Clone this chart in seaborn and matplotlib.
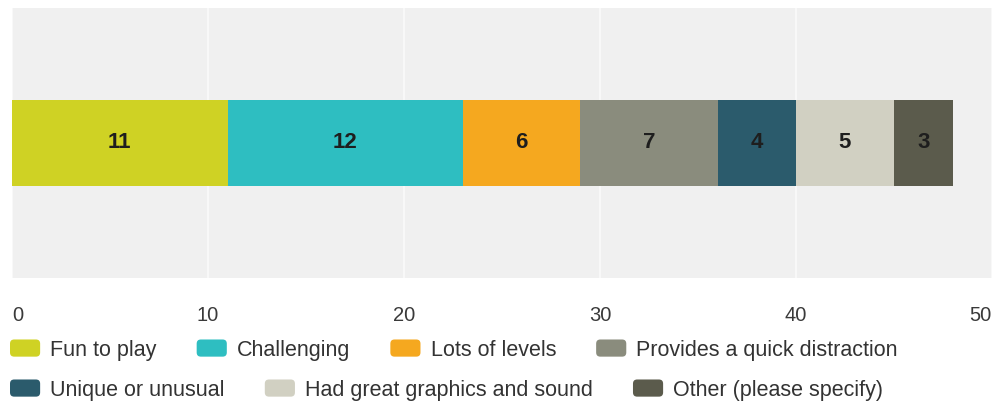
import numpy as np
import matplotlib
matplotlib.use('Agg')
import matplotlib.pyplot as plt
import seaborn as sns
from matplotlib.patches import Patch, FancyBboxPatch
from matplotlib.legend_handler import HandlerPatch

# Data
categories = ['Fun to play', 'Challenging', 'Lots of levels', 'Provides a quick distraction',
              'Unique or unusual', 'Had great graphics and sound', 'Other (please specify)']
counts = [11, 12, 6, 7, 4, 5, 3]
colors = ['#cfd224', '#2ebec1', '#f5a81f', '#8a8c7d', '#2b5b6c', '#d1d0c2', '#5b5b4c']
xticks = [0, 10, 20, 30, 40, 50]

sns.set_theme(style='white')
plt.rcParams['font.family'] = ['Liberation Sans', 'DejaVu Sans']

fig = plt.figure(figsize=(10.03, 4.04), dpi=100)
ax = fig.add_axes([12 / 1003, 1 - 278 / 404, 980 / 1003, 270 / 404])
ax.set_facecolor('#f0f0f0')

# Stacked bar: draw cumulative totals from the largest down so each segment shows
cum = np.cumsum(counts)
for i in reversed(range(len(counts))):
    sns.barplot(x=[cum[i]], y=['row'], color=colors[i], orient='h', width=0.315,
                saturation=1, ax=ax, linewidth=0)

# Value labels in the middle of each segment
starts = cum - np.array(counts)
for s, v in zip(starts, counts):
    ax.text(s + v / 2, 0, str(v), ha='center', va='center', fontsize=16,
            fontweight='bold', color='#1e1e1e')

ax.set_xlim(0, 50)
ax.set_ylim(0.5, -0.5)
ax.set_xticks(xticks)
ax.set_xticklabels([str(t) for t in xticks])
ax.xaxis.grid(True, color='#fafafa', linewidth=1.2)
ax.set_axisbelow(True)
ax.set_yticks([])
ax.set_xlabel('')
ax.set_ylabel('')
for sp in ax.spines.values():
    sp.set_visible(False)
ax.tick_params(axis='x', length=0, pad=20, labelsize=14.5, labelcolor='#3a3a3a')
labels = ax.get_xticklabels()
labels[0].set_ha('left')
labels[-1].set_ha('right')


# rounded legend swatches
class RoundedHandler(HandlerPatch):
    def create_artists(self, legend, orig_handle, xdescent, ydescent, width, height, fontsize, trans):
        p = FancyBboxPatch((-xdescent, -ydescent), width, height,
                           boxstyle='round,pad=0,rounding_size=3',
                           facecolor=orig_handle.get_facecolor(), edgecolor='none',
                           transform=trans)
        return [p]


# Legend in two rows (flow layout)
handles = [Patch(facecolor=c, edgecolor='none', label=l) for c, l in zip(colors, categories)]
leg_kw = dict(frameon=False, fontsize=15.5, borderpad=0, borderaxespad=0,
              handlelength=1.4, handleheight=0.85, handletextpad=0.47,
              columnspacing=1.86, loc='center left', labelcolor='#333333',
              handler_map={Patch: RoundedHandler()})
leg1 = fig.legend(handles=handles[:4], ncol=4, bbox_to_anchor=(10 / 1003, 1 - 350 / 404), **leg_kw)
leg2 = fig.legend(handles=handles[4:], ncol=3, bbox_to_anchor=(10 / 1003, 1 - 390 / 404), **leg_kw)

fig.savefig('out.png', dpi=100, facecolor='white')
